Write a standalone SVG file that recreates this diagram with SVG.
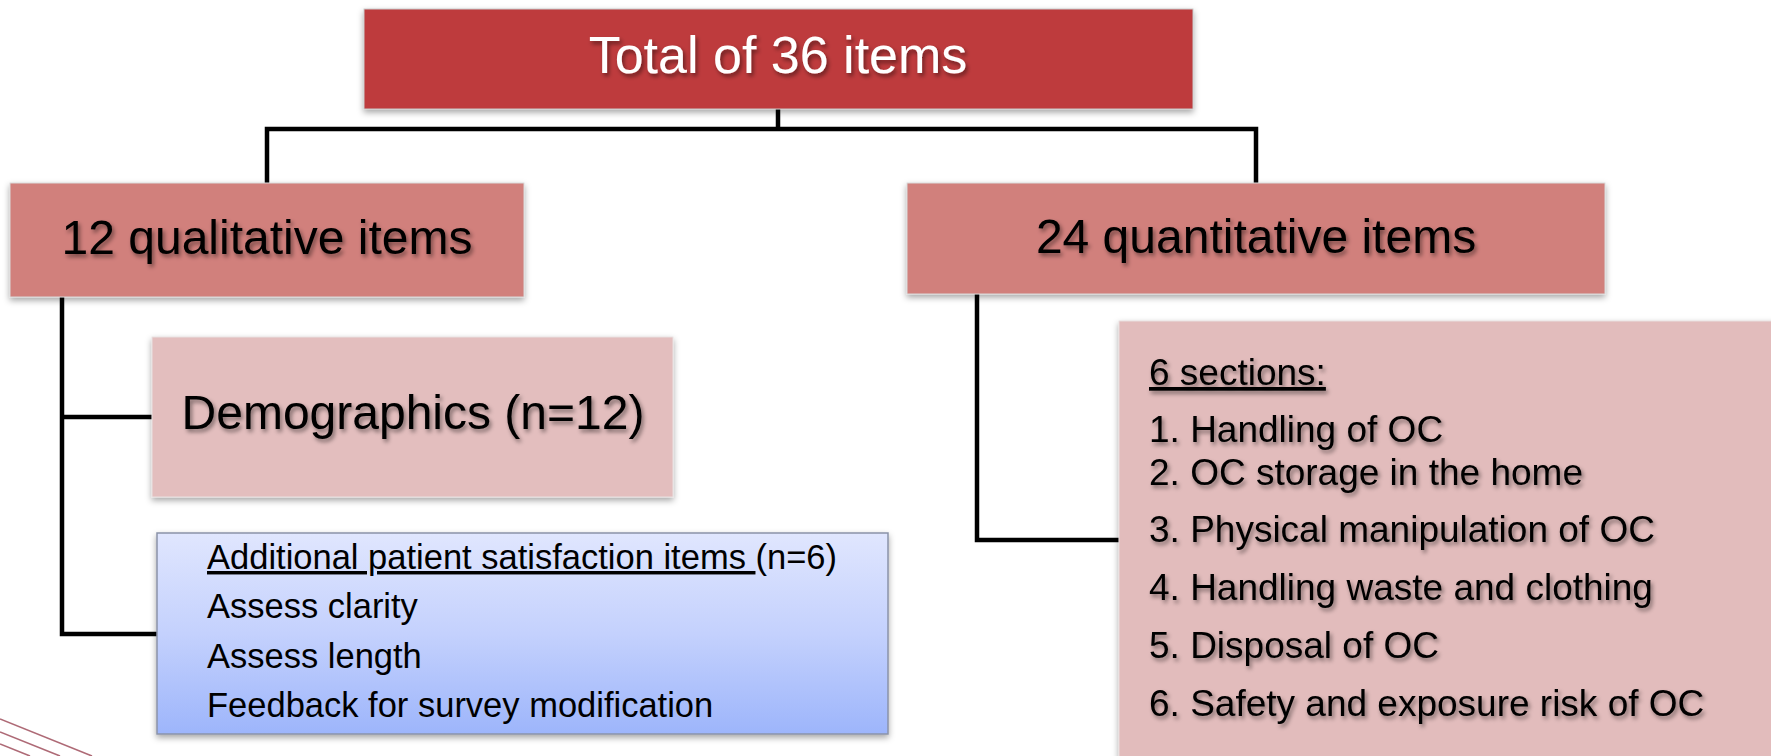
<svg xmlns="http://www.w3.org/2000/svg" width="1771" height="756" viewBox="0 0 1771 756">
  <defs>
    <filter id="boxShadow" x="-5%" y="-10%" width="110%" height="130%">
      <feDropShadow dx="0" dy="3" stdDeviation="3" flood-color="#000" flood-opacity="0.35"/>
    </filter>
    <filter id="textShadow" x="-5%" y="-20%" width="110%" height="150%">
      <feDropShadow dx="2" dy="3" stdDeviation="2" flood-color="#000" flood-opacity="0.45"/>
    </filter>
    <linearGradient id="blueGrad" x1="0" y1="0" x2="0" y2="1">
      <stop offset="0" stop-color="#e0e6fe"/>
      <stop offset="0.5" stop-color="#c4d1fd"/>
      <stop offset="1" stop-color="#9db5fb"/>
    </linearGradient>
  </defs>
  <style>
    text { font-family: "Liberation Sans", Arial, sans-serif; }
    .lbl { fill: #000; font-size: 48px; filter: url(#textShadow); }
    .item { fill: #000; font-size: 37px; filter: url(#textShadow); }
    .blue { fill: #000; font-size: 34.5px; }
    .conn { fill: none; stroke: #000; stroke-width: 4.5; }
    .deco { fill: none; stroke: #a0505e; stroke-width: 1.6; opacity: 0.85; }
  </style>

  <rect width="1771" height="756" fill="#ffffff"/>

  <g id="decoration">
    <line class="deco" x1="0" y1="719" x2="92" y2="756"/>
    <line class="deco" x1="0" y1="732" x2="60" y2="756"/>
    <line class="deco" x1="0" y1="744" x2="30" y2="756"/>
  </g>

  <g id="connectors">
    <path class="conn" d="M778,109 V129"/>
    <path class="conn" d="M267,183 V129 H1256 V183"/>
    <path class="conn" d="M62,297 V634 H157"/>
    <path class="conn" d="M62,417 H152"/>
    <path class="conn" d="M977,294 V540 H1119"/>
  </g>

  <g id="total">
    <rect x="364" y="9" width="829" height="100" fill="#be3b3d" stroke="#c9c9c9" stroke-width="1" filter="url(#boxShadow)"/>
    <text x="778" y="73" text-anchor="middle" font-size="52" fill="#ffffff" filter="url(#textShadow)">Total of 36 items</text>
  </g>

  <g id="qualitative">
    <rect x="10" y="183" width="514" height="114" fill="#d1807c" stroke="#d9d9d9" stroke-width="1" filter="url(#boxShadow)"/>
    <text class="lbl" x="267" y="254" text-anchor="middle">12 qualitative items</text>
  </g>

  <g id="quantitative">
    <rect x="907" y="183" width="698" height="111" fill="#d1807c" stroke="#d9d9d9" stroke-width="1" filter="url(#boxShadow)"/>
    <text class="lbl" x="1256" y="253" text-anchor="middle">24 quantitative items</text>
  </g>

  <g id="demographics">
    <rect x="152" y="337" width="521" height="160" fill="#e3bebe" stroke="#e8e0e0" stroke-width="1" filter="url(#boxShadow)"/>
    <text class="lbl" x="413" y="429" text-anchor="middle">Demographics (n=12)</text>
  </g>

  <g id="satisfaction">
    <rect x="157" y="533" width="731" height="201" fill="url(#blueGrad)" stroke="#8a93a8" stroke-width="1.5" filter="url(#boxShadow)"/>
    <text class="blue" x="207" y="569"><tspan text-decoration="underline">Additional patient satisfaction items </tspan>(n=6)</text>
    <text class="blue" x="207" y="618">Assess clarity</text>
    <text class="blue" x="207" y="668">Assess length</text>
    <text class="blue" x="207" y="717">Feedback for survey modification</text>
  </g>

  <g id="sections">
    <rect x="1119" y="321" width="670" height="450" fill="#e2bcbc" stroke="#e8dede" stroke-width="1" filter="url(#boxShadow)"/>
    <text class="item" x="1149" y="385" font-size="34"><tspan text-decoration="underline">6 sections:</tspan></text>
    <text class="item" x="1149" y="442">1. Handling of OC</text>
    <text class="item" x="1149" y="485">2. OC storage in the home</text>
    <text class="item" x="1149" y="542">3. Physical manipulation of OC</text>
    <text class="item" x="1149" y="600">4. Handling waste and clothing</text>
    <text class="item" x="1149" y="658">5. Disposal of OC</text>
    <text class="item" x="1149" y="716">6. Safety and exposure risk of OC</text>
  </g>
</svg>
